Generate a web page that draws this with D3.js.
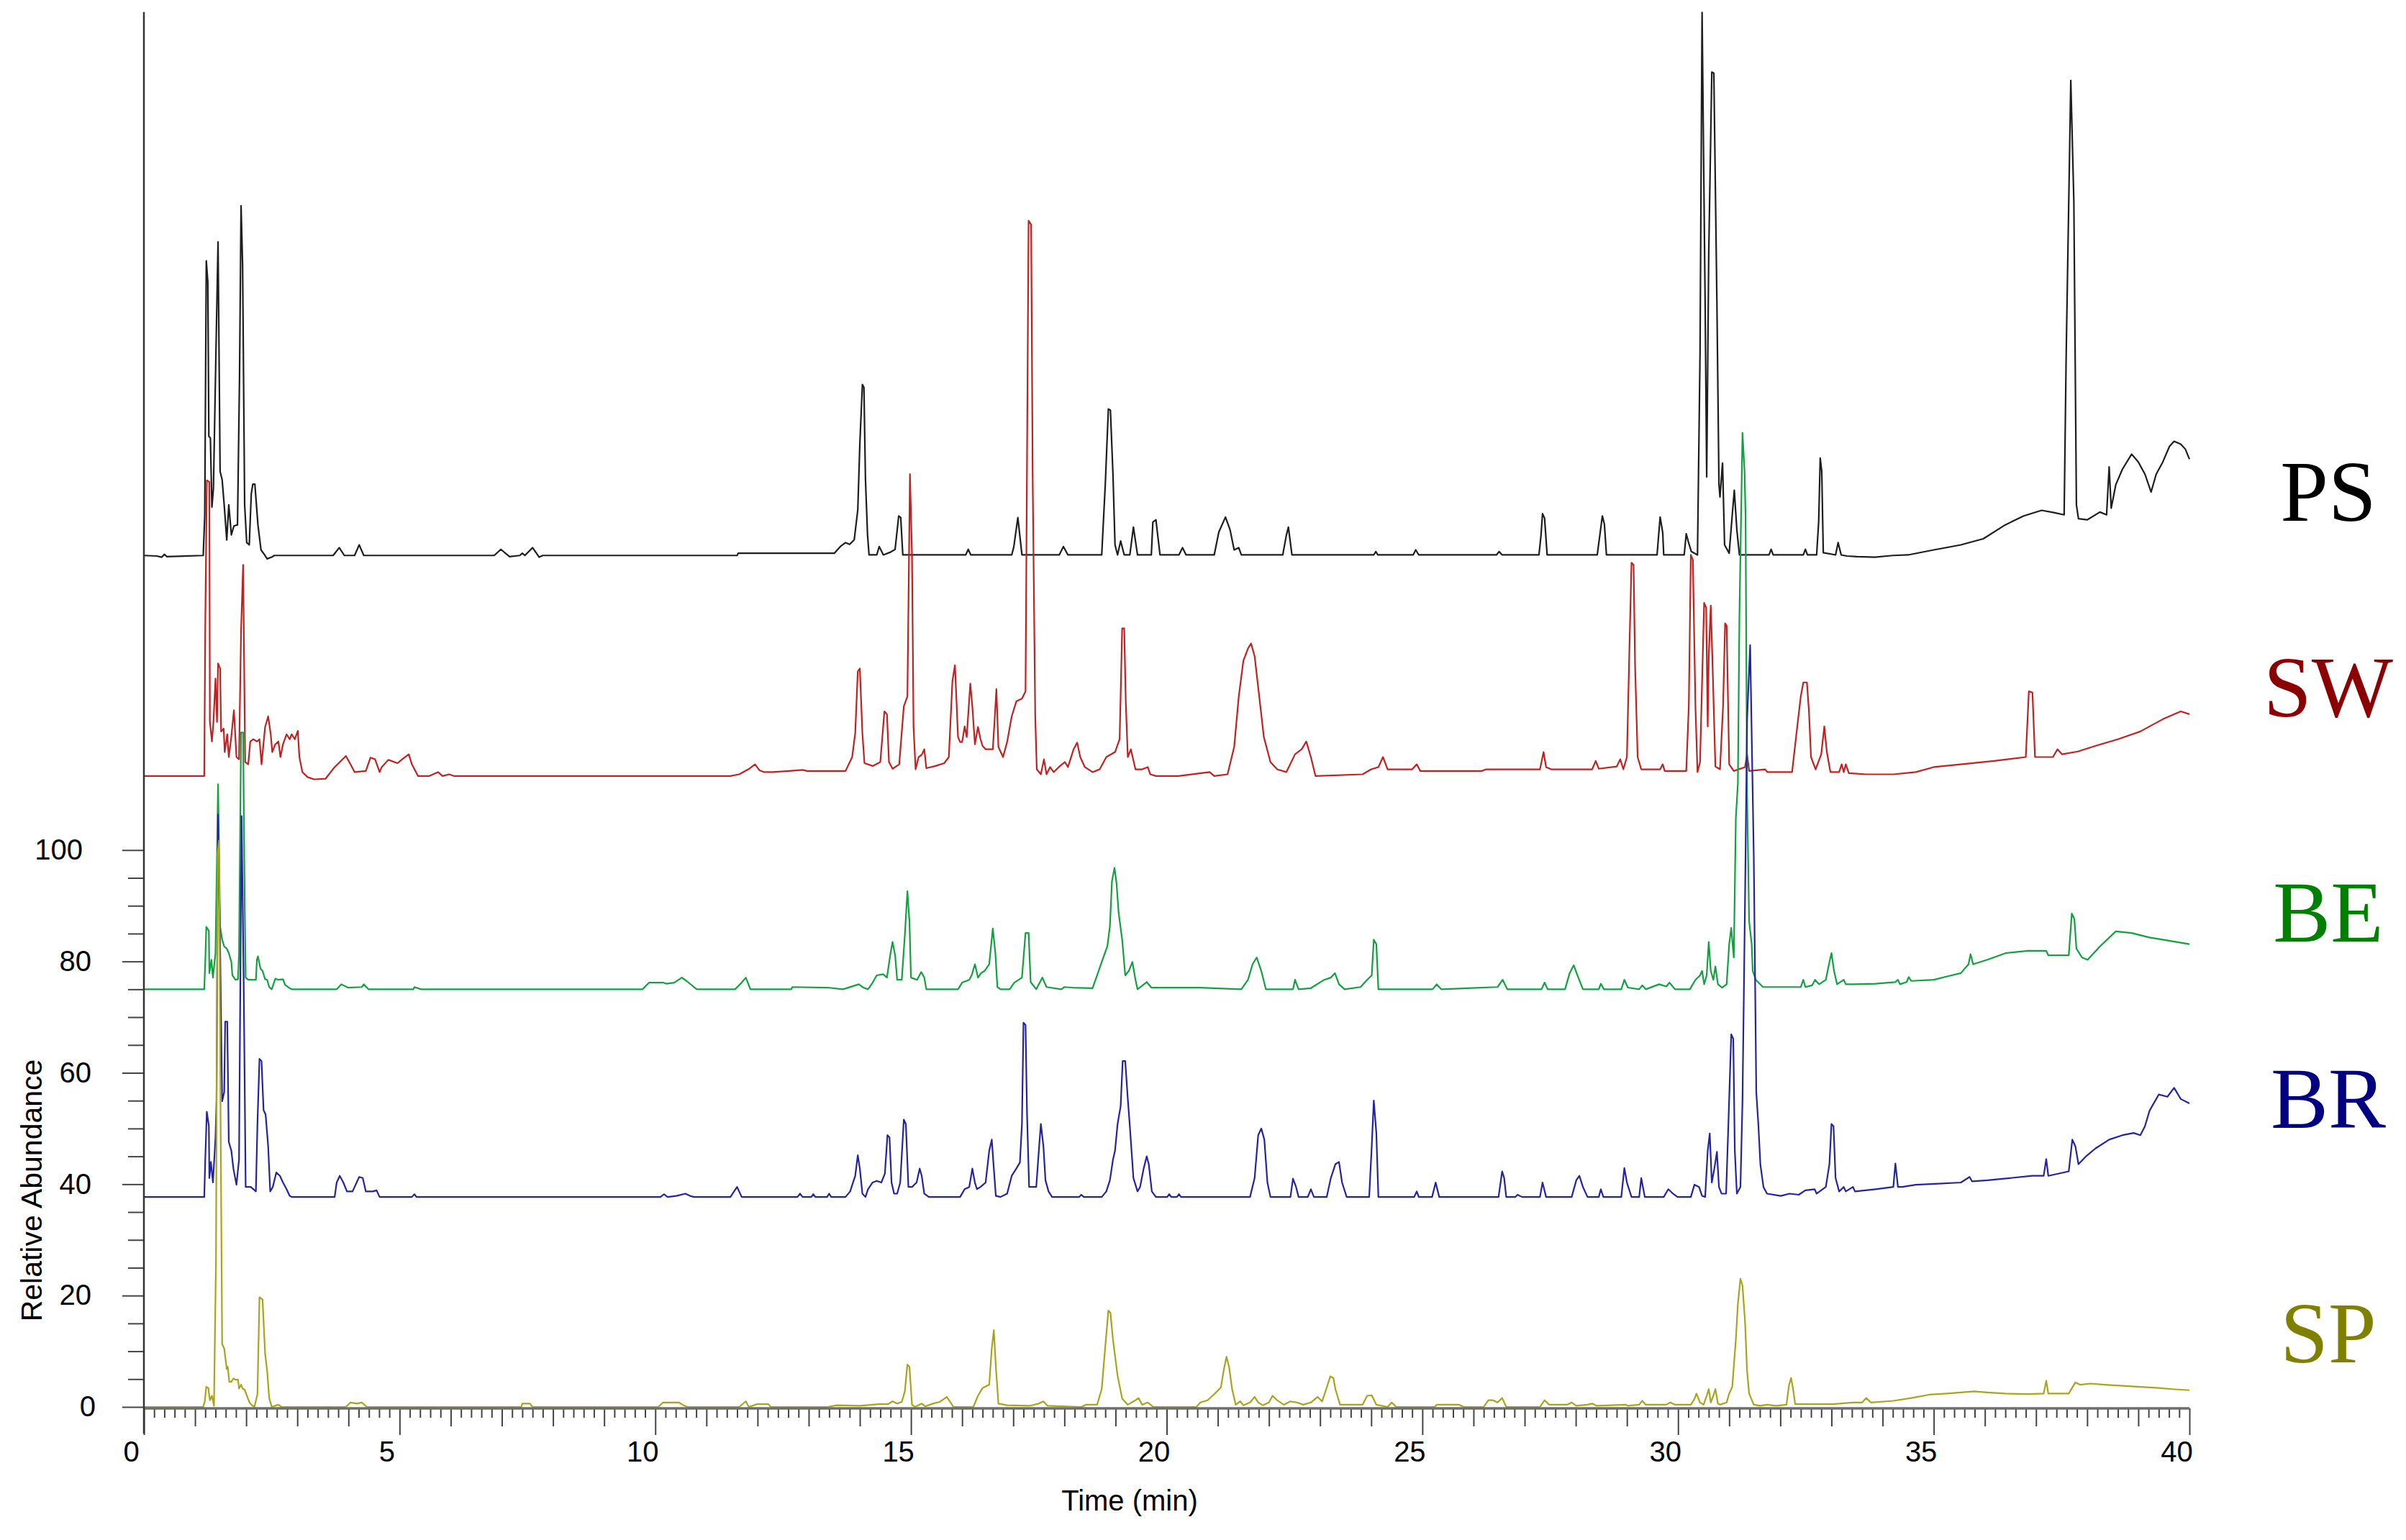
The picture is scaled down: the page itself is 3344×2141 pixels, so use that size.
<!DOCTYPE html>
<html>
<head>
<meta charset="utf-8">
<title>Chromatograms</title>
<script src="https://cdn.jsdelivr.net/npm/d3@7"></script>
<style>
  body { margin: 0; background: #fff; }
  svg { display: block; }
</style>
</head>
<body>
<svg id="chart"></svg>
<script>
// sample names, top to bottom
const sampleNames = ["PS", "SW", "BE", "BR", "SP"];

// axis tick labels
const xTickLabels = [0, 5, 10, 15, 20, 25, 30, 35, 40];
const yTickLabels = [0, 20, 40, 60, 80, 100];

// traces as [time (min), relative abundance incl. stacking offset]
const psTrace = [
  [0, 152.9], [0.25, 152.8], [0.35, 152.6], [0.4, 153.1], [0.45, 152.7], [1.16, 152.9], [1.19, 160],
  [1.22, 205.8], [1.25, 202], [1.27, 174.3], [1.3, 174], [1.33, 161.6], [1.36, 165], [1.41, 190],
  [1.45, 209.2], [1.49, 168], [1.53, 166.5], [1.57, 162], [1.62, 155.7], [1.66, 162], [1.71, 156.6],
  [1.76, 158.2], [1.83, 158.4], [1.87, 185], [1.9, 215.7], [1.93, 205], [1.97, 162], [2.01, 155.2],
  [2.06, 154.8], [2.1, 164], [2.13, 165.7], [2.17, 165.7], [2.23, 158.4], [2.29, 153.9], [2.36, 153],
  [2.41, 152.3], [2.5, 152.6], [2.55, 152.9], [3.7, 152.9], [3.82, 154.3], [3.92, 152.9], [4.12, 152.9],
  [4.21, 154.8], [4.3, 152.9], [6.85, 152.9], [6.98, 154.0], [7.15, 152.7], [7.35, 152.9], [7.4, 153.3],
  [7.45, 152.9], [7.6, 154.3], [7.73, 152.6], [7.8, 152.9], [11.6, 152.9], [11.62, 153.3], [13.5, 153.3],
  [13.63, 154.6], [13.72, 155.2], [13.8, 154.9], [13.89, 155.7], [13.96, 161.1], [14.0, 172.9],
  [14.05, 183.6], [14.08, 183.1], [14.11, 166.6], [14.15, 156.7], [14.18, 153], [14.33, 153],
  [14.38, 154.5], [14.46, 153], [14.6, 153.5], [14.69, 154], [14.76, 160], [14.8, 159.7], [14.84, 153],
  [16.07, 153], [16.12, 154], [16.17, 153], [16.97, 153], [17.01, 154.4], [17.09, 159.7], [17.17, 153],
  [17.9, 153], [17.98, 154.5], [18.07, 153], [18.73, 153], [18.8, 165.7], [18.86, 179.2], [18.9, 179],
  [18.95, 167.5], [18.99, 154.8], [19.04, 153], [19.1, 155.5], [19.17, 153], [19.28, 153], [19.35, 158],
  [19.43, 153], [19.7, 153], [19.73, 158.9], [19.79, 159.3], [19.87, 153], [20.24, 153], [20.31, 154.3],
  [20.38, 153], [20.93, 153], [21.02, 157.1], [21.15, 159.8], [21.24, 157.5], [21.32, 153.9],
  [21.41, 154.3], [21.46, 153], [22.27, 153], [22.34, 156.5], [22.38, 158], [22.45, 153], [24.05, 153],
  [24.09, 153.6], [24.13, 153], [24.82, 153], [24.87, 153.9], [24.93, 153], [26.45, 153], [26.5, 153.6],
  [26.56, 153], [27.28, 153], [27.32, 156.5], [27.35, 160.4], [27.39, 159.6], [27.44, 153], [28.42, 153],
  [28.47, 156.5], [28.52, 160], [28.56, 158.5], [28.6, 153], [29.59, 153], [29.62, 156.5], [29.65, 159.8],
  [29.7, 157], [29.72, 153], [30.12, 153], [30.16, 156.8], [30.2, 155.4], [30.26, 153.6], [30.38, 153],
  [30.43, 189.2], [30.47, 250.4], [30.53, 198], [30.56, 167], [30.6, 207], [30.66, 239.7], [30.7, 239.5],
  [30.76, 198.3], [30.8, 165.7], [30.82, 163.4], [30.87, 169.5], [30.91, 154.8], [31.0, 153.3],
  [31.06, 160.2], [31.1, 164.6], [31.15, 157.5], [31.2, 153], [31.78, 153], [31.82, 154], [31.86, 153],
  [32.45, 153], [32.49, 154], [32.53, 153], [32.71, 153], [32.75, 159], [32.78, 170.4], [32.81, 168],
  [32.84, 153.4], [33.08, 153], [33.13, 155.2], [33.19, 153], [33.3, 152.8], [33.5, 152.7], [33.85, 152.6],
  [34.2, 152.9], [34.5, 153], [35.0, 153.9], [35.53, 154.8], [35.97, 155.9], [36.4, 158.4], [36.76, 160],
  [37.11, 161], [37.35, 160.6], [37.55, 160.2], [37.59, 189], [37.68, 238.2], [37.74, 216.4], [37.79, 162],
  [37.83, 159.5], [38.0, 159.3], [38.25, 160.7], [38.38, 160.2], [38.43, 168.8], [38.47, 161.4],
  [38.56, 165.6], [38.69, 168.4], [38.87, 171.1], [39.0, 169.7], [39.13, 167.5], [39.25, 164.3],
  [39.35, 167.5], [39.48, 169.7], [39.61, 172.5], [39.7, 173.4], [39.83, 172.9], [39.92, 172], [40.0, 170.2]
];

const swTrace = [
  [0, 113.3], [1.18, 113.3], [1.2, 140.3], [1.23, 166.4], [1.28, 166.1], [1.29, 123.1], [1.33, 119.5],
  [1.36, 123], [1.4, 130.8], [1.43, 123], [1.45, 133.5], [1.49, 132.6], [1.51, 121.3], [1.56, 121.8],
  [1.58, 117.6], [1.63, 120.8], [1.66, 116.7], [1.71, 120.4], [1.76, 125.1], [1.81, 116.7], [1.86, 116.3],
  [1.9, 139.4], [1.94, 151.2], [1.98, 115.8], [2.04, 115.4], [2.08, 119.5], [2.14, 119.9], [2.21, 119.5],
  [2.26, 119.9], [2.3, 115.4], [2.37, 122.1], [2.43, 124], [2.48, 120.8], [2.51, 117.6], [2.57, 119],
  [2.63, 119.5], [2.67, 116.7], [2.72, 119], [2.79, 120.8], [2.85, 119.9], [2.89, 120.8], [2.95, 119.9],
  [3.01, 121.4], [3.04, 116.7], [3.1, 114], [3.2, 113.1], [3.33, 112.7], [3.55, 112.8], [3.73, 114.9],
  [3.95, 116.9], [4.04, 115.4], [4.12, 114], [4.34, 114.2], [4.43, 116.6], [4.52, 116.3], [4.61, 114],
  [4.65, 114.9], [4.78, 116.2], [4.96, 115.6], [5.05, 116.3], [5.18, 117.2], [5.24, 115.4], [5.36, 113.3],
  [5.58, 113.3], [5.75, 114], [5.84, 113.3], [5.97, 113.6], [6.06, 113.3], [11.47, 113.3], [11.64, 113.6],
  [11.82, 114.5], [11.95, 115.4], [12.04, 114.3], [12.13, 114], [12.3, 114], [12.61, 114.2], [12.88, 114.4],
  [12.97, 114.2], [13.72, 114.2], [13.85, 116.7], [13.91, 121], [13.96, 132.1], [14.0, 132.6], [14.05, 121],
  [14.09, 115.6], [14.25, 115.1], [14.4, 115.8], [14.44, 120.3], [14.48, 124.9], [14.53, 124.4],
  [14.57, 115.8], [14.64, 114.6], [14.77, 115.4], [14.86, 125.8], [14.93, 127.6], [14.98, 167.5],
  [15.02, 153], [15.05, 122.2], [15.09, 114.5], [15.15, 116.7], [15.21, 117.1], [15.26, 118.1],
  [15.3, 114.7], [15.48, 115.1], [15.65, 115.6], [15.74, 116.7], [15.81, 130.3], [15.86, 133.2],
  [15.92, 120.3], [15.96, 119.4], [16.0, 119.4], [16.05, 122.2], [16.09, 120.3], [16.16, 129.9],
  [16.2, 125.8], [16.25, 119], [16.31, 122.1], [16.36, 119.9], [16.4, 118.7], [16.46, 118.1], [16.6, 118.1],
  [16.64, 124], [16.67, 128.9], [16.71, 118.5], [16.8, 116.7], [16.88, 119.4], [16.97, 124], [17.06, 126.7],
  [17.17, 127.2], [17.24, 128.5], [17.27, 171], [17.3, 213], [17.35, 212.3], [17.38, 166.6], [17.43, 124],
  [17.46, 114.5], [17.54, 113.6], [17.6, 116.3], [17.65, 113.6], [17.72, 114.9], [17.79, 114],
  [17.89, 114.9], [18.01, 115.8], [18.07, 114.9], [18.18, 118.1], [18.25, 119.3], [18.31, 116.7],
  [18.4, 114.9], [18.55, 114], [18.69, 114.5], [18.82, 116.7], [18.99, 117.6], [19.08, 119.9],
  [19.13, 139.8], [19.17, 139.8], [19.2, 126.7], [19.24, 116.7], [19.3, 118.1], [19.39, 114.5],
  [19.52, 114.5], [19.63, 114.9], [19.68, 113.6], [19.79, 113.3], [20.23, 113.3], [20.84, 114],
  [20.93, 113.3], [21.19, 113.6], [21.32, 118.5], [21.41, 127.6], [21.5, 134], [21.59, 136.2],
  [21.65, 137.1], [21.72, 134.8], [21.81, 127.6], [21.9, 120.3], [22.03, 115.8], [22.16, 114.5],
  [22.34, 114], [22.51, 117.2], [22.64, 118.1], [22.73, 119.5], [22.82, 116.7], [22.91, 113.3],
  [23.83, 113.6], [24.0, 114.5], [24.14, 114.9], [24.23, 116.7], [24.32, 114.5], [24.8, 114.5],
  [24.89, 115.4], [24.96, 114.2], [26.16, 114.2], [26.25, 114.5], [27.3, 114.5], [27.37, 117.6],
  [27.42, 114.9], [27.52, 114.5], [28.32, 114.5], [28.39, 116], [28.45, 114.6], [28.8, 115], [28.87, 116.3],
  [28.93, 114.5], [29.0, 116.7], [29.05, 136.6], [29.09, 151.6], [29.13, 151.2], [29.16, 133],
  [29.21, 116.7], [29.28, 114.5], [29.65, 114.5], [29.7, 115.4], [29.74, 114.2], [30.16, 114.2],
  [30.21, 125.8], [30.25, 153], [30.29, 152.1], [30.34, 125.8], [30.38, 114], [30.43, 115.8],
  [30.47, 130.3], [30.51, 144.4], [30.55, 143.5], [30.58, 122.2], [30.6, 134.8], [30.64, 143.9],
  [30.67, 134.8], [30.73, 115], [30.82, 114.5], [30.88, 125.8], [30.92, 140.7], [30.95, 140.3],
  [31.0, 115.4], [31.09, 114.2], [31.31, 114.9], [31.35, 117.2], [31.39, 114.2], [31.7, 114.5],
  [31.75, 114], [32.23, 114], [32.32, 121.3], [32.4, 127.6], [32.45, 130.1], [32.52, 130.1],
  [32.56, 124.9], [32.6, 116.7], [32.69, 114.5], [32.8, 117.2], [32.86, 122.2], [32.91, 117.6],
  [32.98, 114], [33.15, 114], [33.2, 115.4], [33.24, 114], [33.28, 115.4], [33.34, 113.8], [33.68, 113.6],
  [34.21, 113.6], [34.65, 114], [35.0, 114.9], [35.53, 115.4], [36.18, 116], [36.8, 116.7],
  [36.86, 128.5], [36.93, 128.3], [36.98, 116.7], [37.33, 116.7], [37.42, 118.1], [37.51, 117.2],
  [37.82, 117.7], [38.16, 118.7], [38.6, 119.9], [39.04, 121.3], [39.48, 123.5], [39.83, 124.9], [40.0, 124.4]
];

const beTrace = [
  [0, 75], [1.18, 75], [1.2, 79.9], [1.22, 86.2], [1.27, 85.5], [1.28, 77.9], [1.32, 80.3], [1.35, 77.1],
  [1.4, 81.5], [1.45, 111.8], [1.49, 86.3], [1.53, 83.9], [1.57, 82.7], [1.62, 82.3], [1.66, 81.5],
  [1.71, 79.9], [1.73, 77.5], [1.79, 76.7], [1.84, 76.8], [1.86, 81.5], [1.9, 121.1], [1.94, 121.1],
  [1.97, 91.2], [1.99, 77.1], [2.04, 76.7], [2.19, 76.7], [2.21, 80.3], [2.23, 80.9], [2.28, 78.7],
  [2.32, 78.3], [2.37, 76.8], [2.41, 76.7], [2.45, 75.4], [2.5, 75], [2.57, 76.9], [2.63, 76.7],
  [2.72, 76.8], [2.76, 75.8], [2.85, 75.2], [2.89, 75], [3.77, 75], [3.86, 75.9], [3.99, 75.3],
  [4.26, 75.4], [4.3, 75.9], [4.39, 75], [5.27, 75], [5.29, 75.4], [5.42, 75], [9.75, 75], [9.88, 76.2],
  [10.15, 76.2], [10.22, 76], [10.37, 76.2], [10.52, 77.1], [10.61, 76.5], [10.81, 75], [11.56, 75],
  [11.69, 76.2], [11.77, 77.1], [11.86, 75], [12.66, 75], [12.68, 75.4], [13.37, 75.3], [13.67, 75],
  [13.98, 75.9], [14.07, 75.3], [14.16, 75], [14.25, 76.2], [14.33, 77.5], [14.46, 77.7], [14.53, 77.1],
  [14.6, 81.5], [14.64, 83.5], [14.69, 81.1], [14.73, 76.7], [14.82, 76.7], [14.88, 84.7], [14.93, 92.6],
  [14.97, 87.2], [15.0, 77.1], [15.12, 76.7], [15.2, 78.1], [15.26, 77.1], [15.3, 75], [15.92, 75],
  [16.0, 76.2], [16.14, 76.7], [16.19, 77.6], [16.25, 79.5], [16.31, 77.1], [16.37, 77.9], [16.44, 78.3],
  [16.53, 79.5], [16.6, 85.9], [16.65, 81.5], [16.69, 75.4], [16.75, 75], [16.93, 75], [17.02, 76.2],
  [17.17, 77.1], [17.24, 85.1], [17.3, 85.1], [17.34, 76.3], [17.45, 75], [17.57, 77.1], [17.65, 75.4],
  [17.94, 75], [18.0, 75.4], [18.16, 75.3], [18.55, 75.2], [18.64, 77.5], [18.73, 79.9], [18.84, 82.7],
  [18.89, 86.3], [18.93, 94.4], [18.98, 96.8], [19.02, 94], [19.06, 88.8], [19.13, 83.9], [19.19, 77.5],
  [19.26, 78.3], [19.33, 79.9], [19.39, 76.7], [19.43, 75], [19.61, 76.3], [19.7, 75.3], [20.66, 75.3],
  [21.46, 75], [21.59, 76.7], [21.68, 79.5], [21.76, 80.7], [21.85, 78.3], [21.94, 75], [22.47, 75],
  [22.51, 76.7], [22.58, 75], [22.82, 75.2], [23.08, 76.7], [23.21, 77.1], [23.29, 77.9], [23.37, 75.9],
  [23.48, 75], [23.79, 75.4], [23.92, 76.7], [24.01, 77.5], [24.05, 83.9], [24.1, 83.1], [24.14, 75],
  [25.2, 75], [25.28, 75.9], [25.37, 75], [26.47, 75.4], [26.57, 76.7], [26.66, 75], [27.33, 75],
  [27.39, 76.2], [27.45, 75], [27.79, 75], [27.88, 77.9], [27.96, 79.3], [28.05, 77.1], [28.14, 75],
  [28.45, 75], [28.49, 76], [28.55, 75], [28.89, 75], [28.95, 76.7], [29.02, 75.3], [29.24, 75],
  [29.3, 75.7], [29.37, 75], [29.63, 75.9], [29.77, 75.5], [29.83, 76.2], [29.94, 75], [30.23, 75],
  [30.34, 76.7], [30.43, 77.5], [30.47, 78.3], [30.51, 75.9], [30.56, 77.5], [30.6, 83.5], [30.64, 78.3],
  [30.69, 76.7], [30.73, 79.1], [30.78, 75.9], [30.86, 75.3], [30.95, 75.9], [31.0, 83.1], [31.04, 86],
  [31.09, 80.7], [31.13, 105.7], [31.17, 112], [31.2, 142], [31.26, 174.9], [31.3, 168], [31.32, 160],
  [31.35, 110], [31.39, 87.2], [31.44, 83.1], [31.46, 78.3], [31.52, 76.7], [31.66, 75.4], [32.4, 75.4],
  [32.45, 76.7], [32.49, 75.4], [32.62, 75.7], [32.68, 76.7], [32.76, 75.9], [32.89, 76.7], [32.96, 79.9],
  [33.0, 81.5], [33.05, 78.3], [33.11, 75.9], [33.24, 76.7], [33.28, 75.9], [33.42, 75.9], [33.86, 76],
  [34.25, 76.3], [34.3, 76.7], [34.34, 75.9], [34.47, 76.3], [34.51, 77.2], [34.56, 76.5], [35.0, 76.7],
  [35.26, 77.3], [35.53, 77.9], [35.68, 79.5], [35.72, 81.3], [35.77, 79.5], [36.05, 80.3], [36.41, 81.5],
  [36.84, 81.9], [37.2, 81.9], [37.24, 81.1], [37.64, 81.1], [37.7, 88.6], [37.75, 87.6], [37.79, 82.3],
  [37.9, 80.7], [38.01, 80.3], [38.25, 82.7], [38.56, 85.4], [38.87, 85.1], [39.22, 84.3], [39.48, 83.9],
  [39.75, 83.5], [40.0, 83.1]
];

const brTrace = [
  [0, 37.7], [1.18, 37.7], [1.2, 44.4], [1.23, 53], [1.27, 50.5], [1.28, 41.1], [1.31, 44], [1.35, 40.3],
  [1.4, 48.4], [1.42, 54.9], [1.45, 106.4], [1.49, 83.1], [1.53, 54.9], [1.57, 56.5], [1.59, 69.2],
  [1.63, 69.2], [1.66, 47.6], [1.71, 46], [1.75, 42.8], [1.81, 39.9], [1.86, 44.4], [1.91, 106.1],
  [1.95, 77.5], [1.99, 39.5], [2.09, 39.5], [2.19, 38.7], [2.22, 50.8], [2.26, 62.5], [2.3, 62.1],
  [2.34, 53.3], [2.38, 52.5], [2.43, 46.8], [2.47, 38.7], [2.52, 39.5], [2.59, 42.1], [2.66, 41.5],
  [2.72, 40.3], [2.79, 39.1], [2.85, 37.9], [2.89, 37.7], [3.73, 37.7], [3.77, 40.3], [3.83, 41.5],
  [3.9, 40.3], [3.97, 38.7], [4.08, 38.7], [4.21, 41.3], [4.28, 41.1], [4.34, 38.7], [4.48, 38.7],
  [4.55, 38.9], [4.61, 37.7], [5.24, 37.7], [5.29, 38.2], [5.33, 37.7], [10.1, 37.7], [10.17, 38.2],
  [10.24, 37.7], [10.41, 37.9], [10.59, 38.3], [10.68, 37.9], [10.76, 37.7], [11.47, 37.7], [11.54, 38.7],
  [11.6, 39.5], [11.69, 37.7], [12.78, 37.7], [12.83, 38.3], [12.88, 37.7], [13.05, 37.7], [13.09, 38.2],
  [13.13, 37.7], [13.36, 37.7], [13.4, 38.3], [13.44, 37.7], [13.72, 37.7], [13.81, 38.7], [13.91, 41.5],
  [13.96, 45.2], [14.0, 42.8], [14.05, 38.3], [14.11, 37.7], [14.16, 39.1], [14.25, 40.3], [14.33, 40.6],
  [14.42, 40.3], [14.49, 41.9], [14.54, 48.8], [14.58, 48.4], [14.62, 40.3], [14.67, 38.3], [14.73, 38.3],
  [14.79, 40.3], [14.86, 51.6], [14.9, 50.8], [14.95, 39.5], [15.02, 39.5], [15.11, 40.3], [15.17, 42.8],
  [15.21, 41.5], [15.26, 38.3], [15.35, 37.7], [15.96, 37.7], [16.05, 39.1], [16.14, 39.5], [16.2, 42.8],
  [16.25, 40.3], [16.29, 39.1], [16.36, 39.5], [16.46, 40.3], [16.53, 46], [16.58, 48], [16.62, 42.8],
  [16.66, 37.9], [16.75, 37.7], [16.88, 38.3], [16.97, 41.5], [17.06, 42.8], [17.13, 43.9], [17.17, 50.8],
  [17.2, 69], [17.24, 68.6], [17.27, 52.4], [17.31, 39.5], [17.45, 39.5], [17.5, 46], [17.54, 50.8],
  [17.59, 46.8], [17.63, 40.7], [17.69, 38.7], [17.76, 37.7], [18.29, 37.7], [18.33, 38.1], [18.38, 37.7],
  [18.73, 37.7], [18.82, 38.7], [18.89, 40.7], [18.95, 44.4], [18.99, 46], [19.04, 50.8], [19.1, 54],
  [19.14, 62.1], [19.19, 62.1], [19.24, 55.3], [19.28, 50.4], [19.35, 41.1], [19.43, 38.7], [19.48, 39.5],
  [19.55, 42.8], [19.61, 45], [19.65, 43.6], [19.71, 38.7], [19.79, 37.7], [20.01, 37.7], [20.05, 38.2],
  [20.09, 37.7], [20.2, 37.7], [20.24, 38.2], [20.28, 37.7], [21.63, 37.7], [21.72, 41.1], [21.79, 48.8],
  [21.85, 50], [21.91, 48], [21.97, 40.3], [22.03, 37.7], [22.42, 37.7], [22.47, 41], [22.53, 39.5],
  [22.58, 37.7], [22.76, 37.7], [22.82, 39.1], [22.88, 37.7], [23.13, 37.7], [23.21, 41.1], [23.3, 43.6],
  [23.37, 44], [23.43, 40.3], [23.52, 37.7], [23.96, 37.7], [24.01, 46.8], [24.05, 55], [24.1, 49.2],
  [24.14, 37.7], [24.84, 37.7], [24.89, 38.7], [24.93, 37.7], [25.19, 37.7], [25.26, 40.3], [25.33, 37.7],
  [26.49, 37.7], [26.56, 42.3], [26.6, 41.1], [26.64, 37.7], [26.82, 37.7], [26.86, 38.1], [26.95, 37.7],
  [27.3, 37.7], [27.35, 40.3], [27.42, 37.7], [27.92, 37.7], [28.01, 40.7], [28.07, 41.5], [28.14, 39.5],
  [28.23, 37.7], [28.45, 37.7], [28.49, 39.1], [28.54, 37.7], [28.89, 37.7], [28.95, 42.9], [29.0, 40.3],
  [29.09, 37.7], [29.24, 37.7], [29.28, 41.1], [29.35, 37.7], [29.72, 37.7], [29.81, 39.1], [29.9, 38.3],
  [29.99, 37.7], [30.25, 37.7], [30.32, 39.9], [30.41, 39.5], [30.47, 37.9], [30.53, 37.7], [30.58, 46],
  [30.62, 49.1], [30.66, 40.3], [30.71, 42.8], [30.76, 45.8], [30.8, 39.5], [30.85, 38.3], [30.94, 38.3],
  [30.99, 52.4], [31.04, 66.9], [31.08, 66.1], [31.11, 46], [31.15, 38.3], [31.22, 39.5], [31.26, 54.9],
  [31.31, 91.2], [31.35, 123.5], [31.41, 136.8], [31.45, 115.4], [31.48, 99.3], [31.53, 56.5],
  [31.57, 50.8], [31.61, 43.5], [31.67, 39.5], [31.74, 38.3], [32.01, 37.9], [32.18, 38.3], [32.36, 38.1],
  [32.49, 38.9], [32.67, 39.1], [32.71, 38.3], [32.89, 39.5], [32.96, 43.6], [33.0, 50.8], [33.04, 50.4],
  [33.08, 41.1], [33.15, 38.7], [33.24, 39.5], [33.28, 38.7], [33.42, 39.5], [33.46, 38.7], [33.86, 39.1],
  [34.21, 39.5], [34.25, 43.7], [34.3, 39.5], [34.38, 39.5], [34.65, 39.9], [35.09, 40.1], [35.53, 40.3],
  [35.7, 41.3], [35.75, 40.5], [36.05, 40.7], [36.49, 41.1], [36.93, 41.5], [37.15, 41.5], [37.2, 44.5],
  [37.24, 41.5], [37.64, 42.3], [37.71, 48], [37.77, 46.8], [37.83, 43.6], [37.99, 45.1], [38.16, 46.4],
  [38.43, 48], [38.69, 48.8], [38.91, 49.2], [39.04, 48.8], [39.13, 50.4], [39.22, 53.2], [39.4, 56.1],
  [39.57, 55.7], [39.7, 57.3], [39.83, 55.3], [40.0, 54.5]
];

const spTrace = [
  [0, 0], [1.16, 0], [1.19, 1], [1.22, 3.6], [1.26, 3.4], [1.29, 1.2], [1.33, 2], [1.37, 0.2], [1.41, 26.6],
  [1.44, 99.3], [1.47, 101.7], [1.5, 50.8], [1.53, 11.3], [1.57, 10.5], [1.62, 6.8], [1.64, 7.2],
  [1.67, 4.5], [1.71, 4.5], [1.75, 5.1], [1.79, 4.9], [1.84, 4.9], [1.86, 3.3], [1.9, 4], [1.93, 3.3],
  [1.97, 3.1], [2.01, 2.1], [2.06, 0.9], [2.1, 0.4], [2.16, 0], [2.22, 2.3], [2.26, 19.7], [2.32, 19.3],
  [2.37, 9.6], [2.41, 6.5], [2.45, 1.6], [2.5, 0], [2.63, 0.4], [2.69, 0], [3.95, 0], [4.04, 0.8],
  [4.17, 0.6], [4.26, 0.8], [4.36, 0], [7.38, 0], [7.4, 0.6], [7.55, 0.6], [7.6, 0], [10.06, 0],
  [10.15, 0.8], [10.46, 0.8], [10.55, 0.3], [10.63, 0], [11.64, 0], [11.77, 1], [11.83, 0], [11.99, 0.5],
  [12.21, 0.5], [12.26, 0], [13.37, 0], [13.55, 0.3], [14.0, 0.2], [14.38, 0.5], [14.55, 0.5],
  [14.64, 1.0], [14.73, 0.6], [14.82, 0.9], [14.88, 2.8], [14.93, 7.6], [14.97, 7.2], [15.02, 0.4],
  [15.08, 0], [15.21, 0.6], [15.28, 0.1], [15.43, 0.6], [15.56, 0.9], [15.7, 1.8], [15.76, 1], [15.83, 0],
  [16.22, 0], [16.31, 2], [16.4, 3.4], [16.53, 4], [16.58, 10.5], [16.62, 13.8], [16.66, 7.2],
  [16.71, 0.6], [16.88, 0.3], [17.32, 0.2], [17.5, 0.6], [17.59, 1.0], [17.67, 0.2], [18.33, 0],
  [18.42, 0.4], [18.64, 0.4], [18.73, 3.2], [18.8, 10.9], [18.86, 17.3], [18.9, 16.9], [18.95, 12.1],
  [19.04, 5.6], [19.13, 1.5], [19.24, 0.4], [19.39, 1.2], [19.45, 1.6], [19.52, 0.4], [19.63, 0.8],
  [19.74, 0], [20.58, 0], [20.66, 0.8], [20.8, 1.2], [20.93, 2.3], [21.06, 3.5], [21.12, 6.8], [21.17, 9],
  [21.22, 7.2], [21.28, 3.2], [21.35, 0.4], [21.44, 1], [21.5, 0.3], [21.63, 0.8], [21.72, 1.8],
  [21.79, 0.8], [21.88, 0.3], [22.0, 0.8], [22.07, 2], [22.16, 1.2], [22.29, 0.4], [22.42, 1], [22.55, 0.8],
  [22.67, 0.4], [22.82, 0.8], [22.95, 1.8], [23.04, 1], [23.12, 3.2], [23.2, 5.5], [23.26, 5.2],
  [23.3, 3.2], [23.39, 0.4], [23.83, 0.4], [23.92, 2], [24.01, 2.1], [24.1, 0.4], [24.32, 0], [24.4, 0.8],
  [24.49, 0], [25.24, 0], [25.28, 0.4], [25.37, 0.4], [25.72, 0.4], [25.81, 0], [26.2, 0], [26.29, 1.2],
  [26.38, 1.2], [26.47, 0.8], [26.56, 1.6], [26.64, 0], [27.3, 0], [27.33, 0.4], [27.39, 1.2],
  [27.48, 0.4], [27.83, 0.4], [27.92, 0.8], [28.01, 0.2], [28.23, 0.4], [28.32, 0.6], [28.41, 0.2],
  [28.98, 0.4], [29.02, 0.2], [29.24, 0.4], [29.3, 1.1], [29.37, 0.4], [29.77, 0.4], [29.85, 0.8],
  [29.94, 0.4], [30.25, 0.4], [30.32, 1.4], [30.36, 2.4], [30.43, 0.8], [30.5, 0.4], [30.56, 2],
  [30.6, 3.2], [30.64, 0.8], [30.69, 2], [30.73, 3.2], [30.78, 0.6], [30.82, 0.4], [30.95, 0.8],
  [31.0, 2.4], [31.06, 3.6], [31.13, 12.1], [31.17, 18.5], [31.22, 23], [31.26, 21.8], [31.31, 15.3],
  [31.35, 6.4], [31.39, 2.4], [31.48, 0.4], [31.61, 0.2], [31.74, 0.4], [31.92, 0.2], [32.12, 0.4],
  [32.17, 3.9], [32.21, 5.2], [32.25, 3.2], [32.29, 0.5], [32.71, 0.5], [33.02, 0.5], [33.42, 0.8],
  [33.6, 0.8], [33.68, 1.6], [33.77, 0.8], [34.21, 1.1], [34.56, 1.6], [34.91, 2.2], [35.26, 2.4],
  [35.79, 2.8], [36.05, 2.6], [36.4, 2.4], [36.84, 2.3], [37.15, 2.4], [37.2, 4.7], [37.24, 2.4],
  [37.64, 2.4], [37.77, 4.4], [37.86, 4], [38.07, 4.2], [38.34, 4], [38.69, 3.8], [39.04, 3.6],
  [39.4, 3.4], [39.66, 3.2], [40.0, 3.0]
];

const traces = [psTrace, swTrace, beTrace, brTrace, spTrace];

// styles
const lineColors = ["#1e1e1e", "#c02222", "#12a040", "#2424a0", "#a8a41c"];
const labelColors = ["#000000", "#8b0000", "#008000", "#000080", "#808000"];
const labelBaselines = [724, 996, 1309, 1568, 1894];

const width = 3344, height = 2141;
const svg = d3.select("#chart").attr("width", width).attr("height", height);

const x = d3.scaleLinear().domain([0, 40]).range([200, 3043]);
const y = d3.scaleLinear().domain([0, 100]).range([1956, 1181.8]);

const sansFont = "'Liberation Sans', Arial, sans-serif";

// traces, drawn top sample first so lower ones sit above
const line = d3.line().x((d) => x(d[0])).y((d) => y(d[1]));
svg.append("g")
    .selectAll("path")
    .data(traces)
    .join("path")
    .attr("d", line)
    .attr("fill", "none")
    .attr("stroke", (d, i) => lineColors[i])
    .attr("stroke-width", 2.2)
    .attr("stroke-linejoin", "round");

// x axis: major, medium and minor ticks
const axisY = y(0) + 2;
const minutes = d3.range(0, 41).filter((m) => m % 5 !== 0);
const fifths = d3.range(0, 201).map((k) => k / 5).filter((m) => Math.abs(m - Math.round(m)) > 0.01);

function tickLayer(values, size) {
    const g = svg.append("g")
        .attr("transform", "translate(0," + axisY + ")")
        .call(d3.axisBottom(x).tickValues(values).tickSize(size).tickFormat(""));
    g.select(".domain").remove();
    g.selectAll("line").attr("stroke", "#444").attr("stroke-width", 2);
    return g;
}
tickLayer(fifths, 13);
tickLayer(minutes, 25);

const xMajor = svg.append("g")
    .attr("transform", "translate(0," + axisY + ")")
    .call(d3.axisBottom(x).tickValues(xTickLabels).tickSize(37).tickPadding(9));
xMajor.select(".domain").remove();
xMajor.selectAll("line").attr("stroke", "#444").attr("stroke-width", 2);
xMajor.selectAll("text")
    .attr("font-family", sansFont)
    .attr("font-size", 40)
    .attr("fill", "#000")
    .attr("dx", -18);

svg.append("line")
    .attr("x1", x(0)).attr("x2", x(40))
    .attr("y1", axisY).attr("y2", axisY)
    .attr("stroke", "#6e6e6e")
    .attr("stroke-width", 3.5);

// y axis
const yMinor = d3.range(0, 101, 5).filter((v) => v % 20 !== 0);
const yMinorAxis = svg.append("g")
    .attr("transform", "translate(" + x(0) + ",0)")
    .call(d3.axisLeft(y).tickValues(yMinor).tickSize(22).tickFormat(""));
yMinorAxis.select(".domain").remove();
yMinorAxis.selectAll("line").attr("stroke", "#444").attr("stroke-width", 2);

const yMajorAxis = svg.append("g")
    .attr("transform", "translate(" + x(0) + ",0)")
    .call(d3.axisLeft(y).tickValues(yTickLabels).tickSize(30).tickPadding(43));
yMajorAxis.select(".domain").remove();
yMajorAxis.selectAll("line").attr("stroke", "#444").attr("stroke-width", 2);
yMajorAxis.selectAll("text")
    .attr("font-family", sansFont)
    .attr("font-size", 40)
    .attr("fill", "#000")
    .attr("dx", (d) => (d === 100 ? -12 : d === 0 ? 6 : 0));

svg.append("line")
    .attr("x1", x(0)).attr("x2", x(0))
    .attr("y1", y(0) + 37).attr("y2", y(250.5))
    .attr("stroke", "#333")
    .attr("stroke-width", 2.5);

// axis titles
svg.append("text")
    .attr("x", 1570)
    .attr("y", 2100)
    .attr("text-anchor", "middle")
    .attr("font-family", sansFont)
    .attr("font-size", 40)
    .text("Time (min)");

svg.append("text")
    .attr("transform", "translate(58,1655) rotate(-90)")
    .attr("text-anchor", "middle")
    .attr("font-family", sansFont)
    .attr("font-size", 41)
    .text("Relative Abundance");

// sample labels on the right
svg.append("g")
    .selectAll("text")
    .data(sampleNames)
    .join("text")
    .attr("x", 3236)
    .attr("y", (d, i) => labelBaselines[i])
    .attr("text-anchor", "middle")
    .attr("font-family", "'Liberation Serif', 'Times New Roman', serif")
    .attr("font-size", 120)
    .attr("fill", (d, i) => labelColors[i])
    .text((d) => d);
</script>
</body>
</html>
